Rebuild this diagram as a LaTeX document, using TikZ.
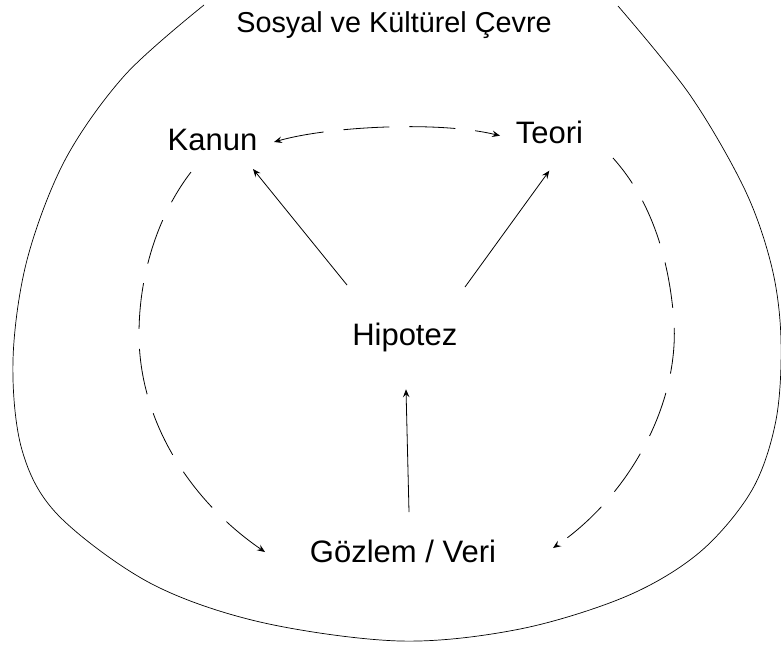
\documentclass[tikz,border=0pt]{standalone}
\usepackage{fontspec}
\setmainfont{Liberation Sans}
\usetikzlibrary{arrows.meta}
\begin{document}
\begin{tikzpicture}[x=1pt,y=-1pt,
  lbl/.style={inner sep=0pt, anchor=base, font=\fontsize{31}{37}\selectfont},
  ttl/.style={inner sep=0pt, anchor=base, font=\fontsize{28.8}{34}\selectfont},
  conn/.style={line width=0.8pt, -{Stealth[length=8pt,width=6.5pt,inset=3pt]}},
  dashconn/.style={line width=0.8pt, dash pattern=on 46pt off 20pt, -{Stealth[length=8pt,width=6.5pt,inset=3pt]}},
  dashboth/.style={line width=0.8pt, dash pattern=on 46pt off 20pt, {Stealth[length=8pt,width=6.5pt,inset=3pt]}-{Stealth[length=8pt,width=6.5pt,inset=3pt]}},
  env/.style={line width=0.7pt}]
\useasboundingbox (0,0) rectangle (781,648);

% labels
\node[ttl] (title) at (394,32) {Sosyal ve Kültürel Çevre};
\node[lbl] (kanun) at (212.5,150) {Kanun};
\node[lbl] (teori) at (549.5,143.3) {Teori};
\node[lbl] (hipotez) at (404.8,345) {Hipotez};
\node[lbl] (gozlem) at (403,562) {Gözlem / Veri};

% outer environment curve
\draw[env] plot[smooth, tension=0.55] coordinates {
  (204,5) (125,75) (65,160) (27,260) (13,360) (22,450) (58,515)
  (150,583) (260,622) (400,641) (520,629) (627,596) (700,552) (752,490)
  (776,420) (781,340) (772,268) (745,190) (690,95) (618,6)};

% solid arrows
\draw[conn] ([shift={(-57.8,-60)}]hipotez.base) -- ([shift={(40.5,19)}]kanun.base);
\draw[conn] ([shift={(60.2,-58)}]hipotez.base) -- ([shift={(-0.2,27.4)}]teori.base);
\draw[conn] ([shift={(6,-50)}]gozlem.base) -- ([shift={(1.2,44.3)}]hipotez.base);

% dashed arcs
\draw[dashboth] ([shift={(61.5,-8)}]kanun.base) .. controls (330,126) and (440,121) .. ([shift={(-49.5,-7.6)}]teori.base);
\draw[dashconn, dash phase=10pt] ([shift={(-21.5,22)}]kanun.base)
  .. controls (156.5,217) and (139,277) .. (139,334)
  .. controls (139,423) and (192,502) .. ([shift={(-138,-10)}]gozlem.base);
\draw[dashconn, dash phase=14pt] ([shift={(63.5,14.7)}]teori.base)
  .. controls (652.5,202) and (669.5,261) .. (674,322)
  .. controls (679,405) and (629,496) .. ([shift={(150,-14)}]gozlem.base);
\end{tikzpicture}
\end{document}
